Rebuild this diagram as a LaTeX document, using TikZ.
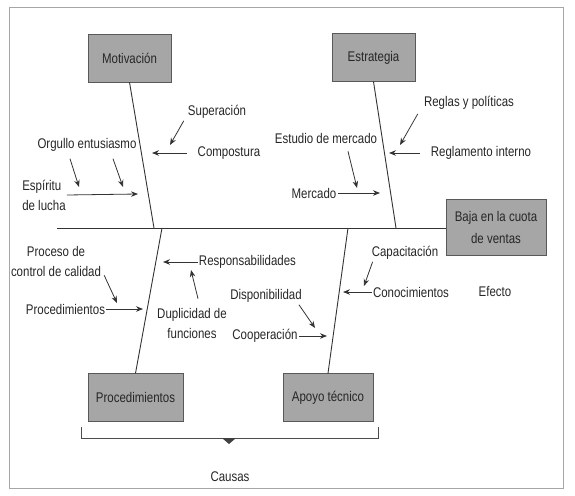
\documentclass[tikz,border=0pt]{standalone}
\usepackage{fontspec}
\setmainfont{Liberation Sans}[FakeStretch=0.82]
\usepackage{tikz}
\usetikzlibrary{arrows.meta,positioning,calc}
\tikzset{
  cause/.style = {draw=black!65, fill=black!35, minimum width=83pt,
                  minimum height=48pt, font=\fontsize{14}{16}\selectfont, text=black!85},
  lbl/.style   = {inner sep=1pt, font=\fontsize{14}{20}\selectfont, text=black!85},
  bone/.style  = {draw=black!80, line width=0.9pt},
  e/.style     = {-{Stealth[length=7pt,width=5.5pt]}, black!80, line width=0.8pt}
}

\begin{document}
\begin{tikzpicture}[x=1pt,y=-1pt]
  \useasboundingbox (0,0) rectangle (575,495);
  \draw[black!35, line width=0.8pt] (9,7) rectangle (563,488);

  % boxes
  \node[cause] (mot) at (129.5,58) {Motivación};
  \node[cause] (estr) at (373.5,57.5) {Estrategia};
  \node[cause, minimum width=95pt] (pbox) at (135.5,397.5) {Procedimientos};
  \node[cause, minimum width=90pt] (abox) at (328,397.5) {Apoyo técnico};
  \node[cause, minimum width=100pt, minimum height=56pt, align=center,
        font=\fontsize{14}{22}\selectfont] (eff) at (496,227) {Baja en la cuota\\de ventas};

  % spine and bones
  \coordinate (tail) at (57,228);
  \coordinate (b1) at (154,228);
  \coordinate (b2) at (396,228);
  \coordinate (b3) at (162,228);
  \coordinate (b4) at (348,228);
  \draw[bone] (tail) -- (tail -| eff.west);
  \draw[bone] (mot.south) -- (b1);
  \draw[bone] (estr.south) -- (b2);
  \draw[bone] (b3) -- (pbox.north);
  \draw[bone] (b4) -- (abox.north);

  % motivacion
  \node[lbl] (sup) at (217,112) {Superación};
  \node[lbl] (comp) at (229,153) {Compostura};
  \node[lbl] (org) at (87,145) {Orgullo entusiasmo};
  \node[lbl, align=left] (esp) at (44,195) {Espíritu\\de lucha};
  \coordinate (t1) at (170,145);
  \coordinate (t2) at (152,153);
  \coordinate (t3) at (79,187);
  \coordinate (t4) at (123,187);
  \coordinate (t5) at (138,194);
  \draw[e] ([shift={(-3pt,-1pt)}]sup.south west) -- (t1);
  \draw[e] ([xshift=-10pt]comp.west) -- (t2);
  \draw[e] ([shift={(-17pt,-6pt)}]org.south) -- (t3);
  \draw[e] ([shift={(26pt,-6pt)}]org.south) -- (t4);
  \draw[e] (esp.east) -- (t5);

  % estrategia
  \node[lbl] (reg) at (469,103) {Reglas y políticas};
  \node[lbl] (regl) at (481,153) {Reglamento interno};
  \node[lbl] (estu) at (326,138) {Estudio de mercado};
  \node[lbl] (merc) at (314,193) {Mercado};
  \coordinate (t6) at (400,145);
  \coordinate (t7) at (389,153);
  \coordinate (t8) at (357,188);
  \coordinate (t9) at (380,193);
  \draw[e] ([shift={(-5pt,-3pt)}]reg.south west) -- (t6);
  \draw[e] ([xshift=-10pt]regl.west) -- (t7);
  \draw[e] ([shift={(22pt,-7pt)}]estu.south) -- (t8);
  \draw[e] (merc.east) -- (t9);

  % procedimientos
  \node[lbl, align=center] (proc) at (56,261) {Proceso de\\control de calidad};
  \node[lbl] (plbl) at (65.5,309) {Procedimientos};
  \node[lbl] (resp) at (247.5,262) {Responsabilidades};
  \node[lbl, align=center] (dup) at (192,323) {Duplicidad de\\funciones};
  \coordinate (t10) at (117,303);
  \coordinate (t11) at (143,309);
  \coordinate (t12) at (163,262);
  \coordinate (t13) at (191,270);
  \draw[e] ([shift={(2pt,2pt)}]proc.south east) -- (t10);
  \draw[e] (plbl.east) -- (t11);
  \draw[e] (resp.west) -- (t12);
  \draw[e] ([shift={(6pt,8pt)}]dup.north) -- (t13);

  % apoyo tecnico
  \node[lbl] (cap) at (405,253) {Capacitación};
  \node[lbl] (con) at (411,292) {Conocimientos};
  \node[lbl] (disp) at (266,296) {Disponibilidad};
  \node[lbl] (coop) at (265,336) {Cooperación};
  \coordinate (t14) at (364,286);
  \coordinate (t15) at (343,292);
  \coordinate (t16) at (315,328);
  \coordinate (t17) at (327,336);
  \draw[e] ([shift={(2pt,-1pt)}]cap.south west) -- (t14);
  \draw[e] (con.west) -- (t15);
  \draw[e] ([shift={(-4pt,-1pt)}]disp.south east) -- (t16);
  \draw[e] (coop.east) -- (t17);

  % causas / efecto
  \node[lbl] (efe) at (495,291) {Efecto};
  \draw[black!70, line width=0.8pt] (81,427) -- (81,438) -- (378,438) -- (378,427);
  \fill[black!75] (222,438) -- (236,438) -- (229,444) -- cycle;
  \node[lbl] (cau) at (230,477) {Causas};
\end{tikzpicture}
\end{document}
